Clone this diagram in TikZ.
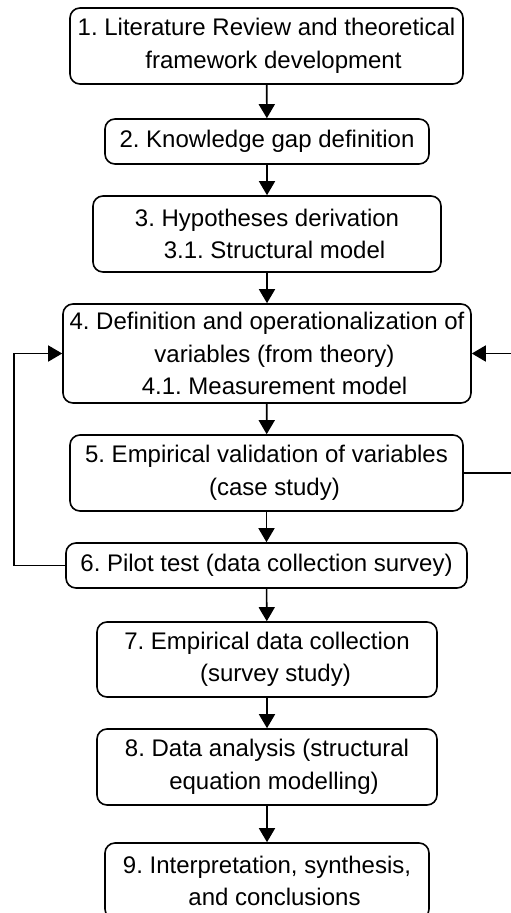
\documentclass[tikz,border=0pt]{standalone}
\usepackage{fontspec}
\setmainfont{Liberation Sans}
\usetikzlibrary{arrows.meta}
\frenchspacing
\begin{document}
\begin{tikzpicture}[x=1pt,y=-1pt,
  stepbox/.style={draw, line width=1.6pt, rounded corners=10pt, align=center,
    inner sep=0pt, font=\fontsize{24}{32.5}\selectfont},
  arr/.style={line width=1.6pt, -{Triangle[width=16pt,length=14pt]}}]
\useasboundingbox (0,0) rectangle (511,913);
\clip (0,0) rectangle (511,913);
\node[stepbox, minimum width=393pt, minimum height=76pt] (b1) at (266.5,46)
  {1. Literature Review and theoretical\\\hspace*{14pt}framework development};
\node[stepbox, minimum width=324pt, minimum height=45pt] (b2) at (267,141.5)
  {2. Knowledge gap definition};
\node[stepbox, minimum width=348pt, minimum height=76pt] (b3) at (267,234)
  {3. Hypotheses derivation\\\hspace*{15pt}3.1. Structural model};
\node[stepbox, minimum width=408pt, minimum height=99pt] (b4) at (267,353.5)
  {4. Definition and operationalization of\\\hspace*{15pt}variables (from theory)\\\hspace*{15pt}4.1. Measurement model};
\node[stepbox, minimum width=393pt, minimum height=76pt] (b5) at (266.5,473)
  {5. Empirical validation of variables\\\hspace*{16pt}(case study)};
\node[stepbox, minimum width=401pt, minimum height=45pt] (b6) at (266.5,565.5)
  {6. Pilot test (data collection survey)};
\node[stepbox, minimum width=340pt, minimum height=75pt] (b7) at (267,659.5)
  {7. Empirical data collection\\\hspace*{17pt}(survey study)};
\node[stepbox, minimum width=340pt, minimum height=76pt] (b8) at (267,767)
  {8. Data analysis (structural\\\hspace*{14pt}equation modelling)};
\node[stepbox, minimum width=324pt, minimum height=76pt] (b9) at (267,881)
  {9. Interpretation, synthesis,\\\hspace*{15pt}and conclusions};
\draw[arr] (b1) -- (b2);
\draw[arr] (b2) -- (b3);
\draw[arr] (b3) -- (b4);
\draw[arr] (b4) -- (b5);
\draw[arr] (b5) -- (b6);
\draw[arr] (b6) -- (b7);
\draw[arr] (b7) -- (b8);
\draw[arr] (b8) -- (b9);
\coordinate (lc) at (14,0);
\coordinate (rc) at (516,0);
\draw[arr] (b6.west) -- (b6.west -| lc) -- (b4.west -| lc) -- (b4.west);
\draw[arr] (b5.east) -- (b5.east -| rc) -- (b4.east -| rc) -- (b4.east);
\end{tikzpicture}
\end{document}
